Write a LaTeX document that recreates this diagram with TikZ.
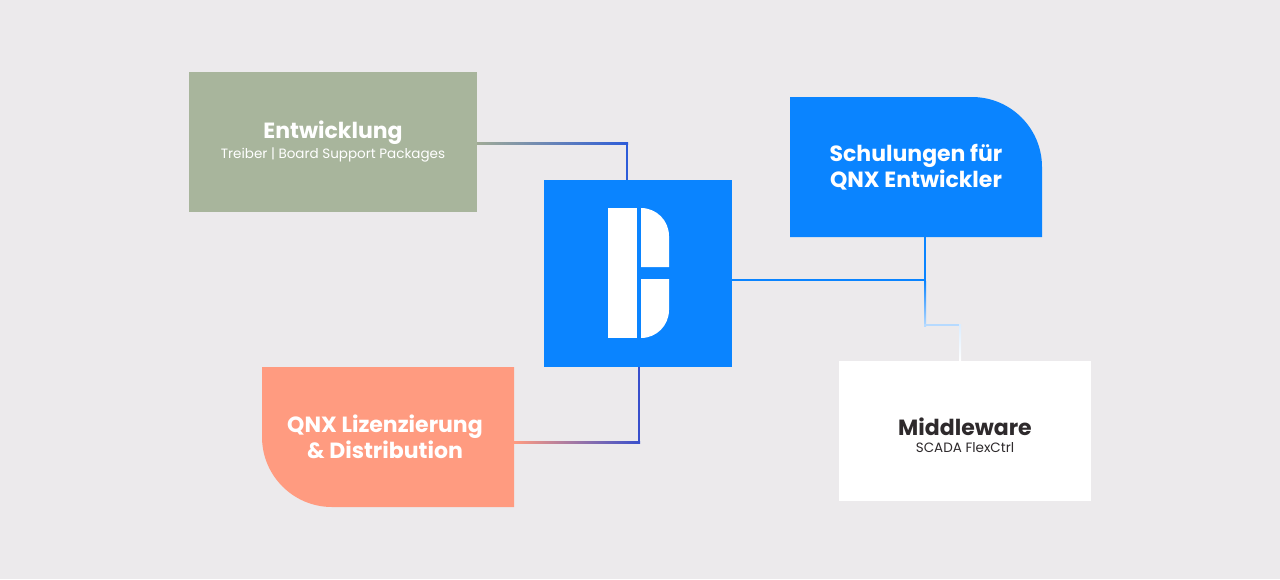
\documentclass[tikz,border=0pt]{standalone}
\usepackage{fontspec}
\setmainfont{Poppins}
\begin{document}
\begin{tikzpicture}[x=1pt,y=-1pt,
 title/.style={font=\fontsize{22}{26}\selectfont\bfseries,align=center},
 sub/.style={font=\fontsize{13.5}{16}\selectfont}]
\definecolor{bg}{HTML}{ECEAEC}
\definecolor{qblue}{HTML}{0A84FF}
\definecolor{sage}{HTML}{A8B59C}
\definecolor{salmon}{HTML}{FF9B80}
\definecolor{dark}{HTML}{2E2A2C}
\fill[bg] (0,0) rectangle (1280,579);
% connectors
\shade[left color=sage!80!gray, right color=qblue!70!violet] (477,142) rectangle (628,144);
\fill[qblue!70!violet] (626,142) rectangle (628,180);
\shade[left color=salmon, right color=qblue!60!violet] (514,441) rectangle (640,443);
\fill[qblue!60!violet] (638,367) rectangle (640,443);
\fill[qblue] (732,279) rectangle (926,281);
\fill[qblue] (924,237) rectangle (926,281);
\shade[top color=qblue, bottom color=qblue!30] (924,281) rectangle (926,326);
\fill[qblue!30] (924,324) rectangle (961,326);
\shade[top color=qblue!15, bottom color=white] (959,324) rectangle (961,361);
% boxes
\fill[sage] (189,72) rectangle (477,212);
\node[title,white] (entT) at (333,133) {Entwicklung};
\node[sub,white] (entS) at (333,155) {Treiber | Board Support Packages};
\fill[qblue] (544,180) rectangle (732,367);
\fill[white] (608,208) rectangle (637,338);
\fill[white] (641,267) -- (669,267) -- (669,236) arc[start angle=0,end angle=-90,radius=28] -- cycle;
\fill[white] (641,279) -- (669,279) -- (669,310) arc[start angle=0,end angle=90,radius=28] -- cycle;
\fill[qblue] (790,97) -- (972,97) arc[start angle=-90,end angle=0,radius=70] -- (1042,237) -- (790,237) -- cycle;
\node[title,white] (sch) at (916,167) {Schulungen für\\QNX Entwickler};
\fill[salmon] (262,367) -- (514,367) -- (514,507) -- (332,507) arc[start angle=90,end angle=180,radius=70] -- cycle;
\node[title,white] (lic) at (385,437) {QNX Lizenzierung\\\& Distribution};
\fill[white] (839,361) rectangle (1091,501);
\node[title,dark] (midT) at (965,427) {Middleware};
\node[sub,dark] (midS) at (965,448) {SCADA FlexCtrl};
\end{tikzpicture}
\end{document}
